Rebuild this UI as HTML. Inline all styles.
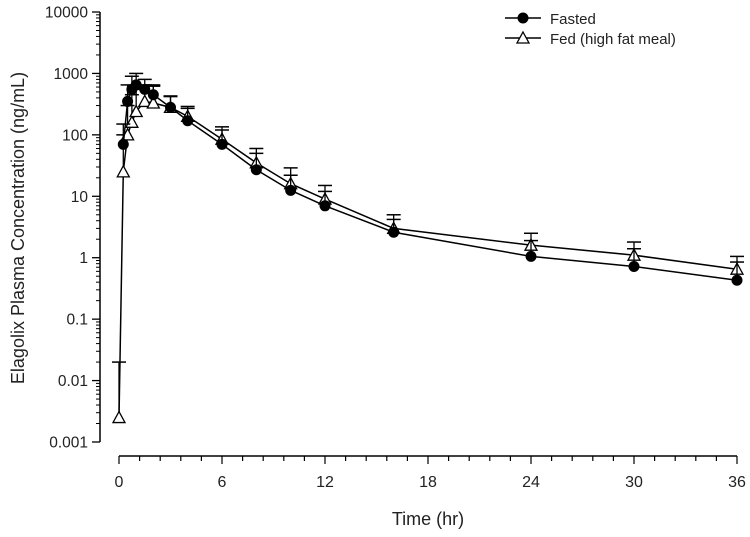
<!DOCTYPE html>
<html><head><meta charset="utf-8"><style>
body{margin:0;background:#fff;}
svg text{font-family:"Liberation Sans",Arial,sans-serif;fill:#222;}
</style></head><body>
<svg id="chart" width="750" height="532">
<g id="axes"></g><g id="series"></g>
<g>
<line x1="505" y1="18" x2="541" y2="18" stroke="#000" stroke-width="1.5"/>
<circle cx="523" cy="18" r="5.5" fill="#000"/>
<text x="550" y="24" font-size="15">Fasted</text>
<line x1="505" y1="38" x2="541" y2="38" stroke="#000" stroke-width="1.5"/>
<polygon points="523,32 529,43 517,43" fill="#fff" stroke="#000" stroke-width="1.3"/>
<text x="550" y="44" font-size="15">Fed (high fat meal)</text>
</g>
<text x="428" y="525" font-size="18" text-anchor="middle">Time (hr)</text>
<text transform="translate(24,228) rotate(-90)" font-size="18" text-anchor="middle">Elagolix Plasma Concentration (ng/mL)</text>
</svg>
<script>
const times=[0,0.25,0.5,0.75,1,1.5,2,3,4,6,8,10,12,16,24,30,36];
const fasted=[null,70,350,550,650,550,450,280,170,70,27,12.5,7,2.6,1.05,0.72,0.43];
const fastedUpper=[null,150,650,900,1000,800,650,430,270,120,50,22,12,4.2,1.9,1.4,0.85];
const fed=[0.0025,25,100,160,240,350,330,280,200,85,35,16,9,3,1.6,1.1,0.65];
const fedUpper=[0.02,100,300,450,550,650,620,420,290,135,60,29,15,5,2.5,1.8,1.05];
const yTicks=[0.001,0.01,0.1,1,10,100,1000,10000];
const yTickLabels=["0.001","0.01","0.1","1","10","100","1000","10000"];
const xTicks=[0,6,12,18,24,30,36];
const NS="http://www.w3.org/2000/svg";
const X=t=>119+t*(618/36);
const Y=v=>442-(Math.log10(v)+3)*(430/7);
function el(tag,attrs,parent){const e=document.createElementNS(NS,tag);for(const k in attrs)e.setAttribute(k,attrs[k]);parent.appendChild(e);return e;}
const ax=document.getElementById('axes');
let a=el('line',{x1:100,y1:Y(10000),x2:100,y2:Y(0.001),stroke:'#000','stroke-width':1.5},ax);


yTicks.forEach((v,i)=>{
 el('line',{x1:92,x2:100,y1:Y(v),y2:Y(v),stroke:'#000','stroke-width':1.3},ax);
 if(i<yTicks.length-1)for(let m=2;m<10;m++){el('line',{x1:96,x2:100,y1:Y(v*m),y2:Y(v*m),stroke:'#000','stroke-width':1},ax);}
 const t=el('text',{x:88,y:Y(v)+5.5,'font-size':15.5,'text-anchor':'end'},ax);t.textContent=yTickLabels[i];
 
 
});
let b=el('line',{x1:X(0),y1:456,x2:X(36),y2:456,stroke:'#000','stroke-width':1.5},ax);


for(let k=0;k<=30;k++){const t=k*1.2;el('line',{x1:X(t),x2:X(t),y1:456,y2:k%5==0?464:461,stroke:'#000','stroke-width':1.2},ax);}
xTicks.forEach(v=>{const t=el('text',{x:X(v),y:487,'font-size':16,'text-anchor':'middle'},ax);t.textContent=v;
 
 });
const sg=document.getElementById('series');
function draw(vals,upp,name,marker){
 const g=el('g',{},sg);
 
 
 let pts=[];
 vals.forEach((v,i)=>{if(v==null)return;pts.push(X(times[i])+','+Y(v));});
 el('polyline',{points:pts.join(' '),fill:'none',stroke:'#000','stroke-width':1.5},g);
 vals.forEach((v,i)=>{if(v==null)return;const x=X(times[i]);
  el('line',{x1:x,x2:x,y1:Y(v),y2:Y(upp[i]),stroke:'#000','stroke-width':1.3},g);
  el('line',{x1:x-7,x2:x+7,y1:Y(upp[i]),y2:Y(upp[i]),stroke:'#000','stroke-width':1.5},g);});
 vals.forEach((v,i)=>{if(v==null)return;const x=X(times[i]),y=Y(v);let m;
  if(marker=='c')m=el('circle',{cx:x,cy:y,r:5.5,fill:'#000'},g);
  else m=el('polygon',{points:`${x},${y-6} ${x+6},${y+5} ${x-6},${y+5}`,fill:'#fff',stroke:'#000','stroke-width':1.3},g);
  
  });
}
draw(fed,fedUpper,'fed-series','t');
draw(fasted,fastedUpper,'fasted-series','c');
</script>
</body></html>
